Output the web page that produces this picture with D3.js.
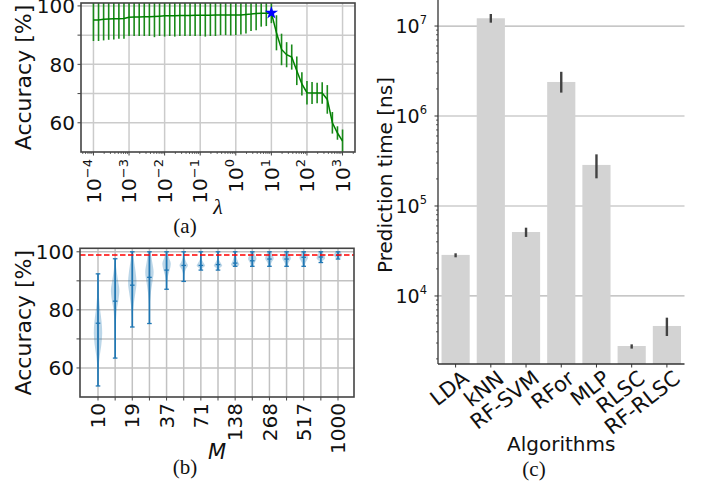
<!DOCTYPE html>
<html>
<head>
<meta charset="utf-8">
<script src="https://cdn.jsdelivr.net/npm/d3@7"></script>
<style>
body { margin: 0; background: #fff; }
text { font-family: "DejaVu Sans", sans-serif; fill: #111; }
.cap { font-family: "Liberation Serif", serif; }
</style>
</head>
<body>
<svg id="fig" width="705" height="486"></svg>
<script>
// ---------- data ----------
// (a) accuracy vs lambda
const lambdas = [
  1.00e-4, 1.39e-4, 1.93e-4, 2.68e-4, 3.73e-4, 5.18e-4, 7.20e-4,
  1.00e-3, 1.39e-3, 1.93e-3, 2.68e-3, 3.73e-3, 5.18e-3, 7.20e-3,
  1.00e-2, 1.39e-2, 1.93e-2, 2.68e-2, 3.73e-2, 5.18e-2, 7.20e-2,
  1.00e-1, 1.39e-1, 1.93e-1, 2.68e-1, 3.73e-1, 5.18e-1, 7.20e-1,
  1.00e0, 1.39e0, 1.93e0, 2.68e0, 3.73e0, 5.18e0, 7.20e0,
  1.00e1, 1.39e1, 1.93e1, 2.68e1, 3.73e1, 5.18e1, 7.20e1,
  1.00e2, 1.39e2, 1.93e2, 2.68e2, 3.73e2, 5.18e2, 7.20e2,
  1.00e3
];
const accMean = [
  95.2, 95.2, 95.4, 95.5, 95.6, 95.6, 95.7,
  96.1, 96.2, 96.2, 96.3, 96.3, 96.4, 96.5,
  96.6, 96.6, 96.6, 96.7, 96.7, 96.7, 96.8,
  96.8, 96.8, 96.8, 96.9, 96.9, 96.9, 96.9,
  96.9, 96.9, 97.1, 97.2, 97.4, 97.5, 97.5,
  97.6, 90.8, 85.1, 83.3, 82.5, 77.8, 73.3,
  70.3, 70.2, 70.2, 70.2, 68.0, 60.0, 56.5,
  53.7
];
const accStd = [
  7.2, 7.2, 7.2, 7.1, 7.1, 6.8, 6.9,
  6.4, 6.5, 6.5, 6.6, 6.6, 7.1, 6.8,
  7.1, 6.9, 7.1, 7.0, 7.0, 7.0, 7.1,
  7.1, 7.3, 7.1, 7.2, 6.9, 6.9, 7.0,
  6.9, 6.7, 6.5, 5.8, 5.7, 4.6, 4.4,
  3.5, 6.0, 5.4, 4.3, 4.3, 4.9, 4.0,
  4.0, 3.8, 3.5, 3.7, 4.9, 3.7, 2.3,
  4.0
];
const bestLambda = 1.00e1, bestAcc = 97.6;
const lamTickExp = [-4, -3, -2, -1, 0, 1, 2, 3];
const accTicks = [60, 70, 80, 90, 100];
const accLabels = [60, 80, 100];

// (b) accuracy vs M (violins)
const Ms = [10, 14, 19, 27, 37, 52, 71, 100, 138, 193, 268, 373, 517, 719, 1000];
const mLabels = [10, 19, 37, 71, 138, 268, 517, 1000];
const mMin = [53.8, 63.4, 74.1, 75.3, 87.1, 89.8, 93.7, 93.7, 95.0, 95.0, 95.0, 95.0, 95.0, 96.3, 97.5];
const mMax = [92.4, 97.6, 100, 100, 100, 100, 100, 100, 100, 100, 100, 100, 100, 100, 100];
const mMedian = [75.4, 83.0, 88.5, 91.2, 93.7, 95.3, 95.3, 95.6, 96.1, 96.9, 97.5, 97.5, 98.1, 98.2, 98.8];
// violin outlines: [accuracy, relative half width]
const violins = [
  [[92.4,0],[88,0.1],[84,0.25],[80,0.5],[76,0.85],[72,1.0],[68,0.8],[64,0.4],[60,0.15],[56,0.05],[53.8,0]],
  [[97.6,0.05],[94,0.3],[90,0.7],[87,1.0],[84,0.85],[80,0.4],[75,0.15],[70,0.05],[63.4,0]],
  [[100,0.15],[97,0.4],[93,0.8],[89,1.0],[86,0.75],[82,0.35],[78,0.1],[74.1,0]],
  [[100,0.3],[97,0.6],[93,1.0],[90,0.75],[86,0.35],[82,0.1],[75.3,0]],
  [[100,0.2],[98,0.55],[96,1.0],[94,0.8],[92,0.4],[89,0.1],[87.1,0]],
  [[100,0.05],[98,0.2],[96.5,0.6],[95.3,1.0],[94,0.5],[92,0.1],[89.8,0]],
  [[100,0.05],[97.5,0.2],[95.8,0.8],[95.2,1.0],[94.5,0.5],[93.7,0.1]],
  [[100,0.05],[97.5,0.2],[95.8,0.8],[95.3,1.0],[94.5,0.5],[93.7,0.1]],
  [[100,0.1],[98,0.35],[96.5,0.7],[95.6,1.0],[95,0.6]],
  [[100,0.3],[98.5,0.8],[97.5,1.0],[96.3,0.6],[95,0.3]],
  [[100,0.35],[98.5,0.9],[97.6,1.0],[96.3,0.5],[95,0.25]],
  [[100,0.35],[98.5,0.9],[97.6,1.0],[96.3,0.5],[95,0.25]],
  [[100,0.4],[98.6,0.9],[97.8,1.0],[96.3,0.45],[95,0.2]],
  [[100,0.3],[98.5,0.9],[97.7,1.0],[96.8,0.4],[96.3,0.2]],
  [[100,0.4],[99,1.0],[98.2,0.7],[97.5,0.3]]
];
const refAcc = 98.9;

// (c) prediction time
const algos = ["LDA", "kNN", "RF-SVM", "RFor", "MLP", "RLSC", "RF-RLSC"];
const predTime = [2.86e4, 1.22e7, 5.14e4, 2.39e6, 2.86e5, 2.78e3, 4.64e3];
const timeLow = [2.69e4, 1.09e7, 4.53e4, 1.82e6, 2.03e5, 2.60e3, 3.59e3];
const timeHigh = [2.98e4, 1.36e7, 5.74e4, 3.10e6, 3.75e5, 2.90e3, 5.74e3];
const timeTickExp = [4, 5, 6, 7];

const svg = d3.select("#fig");
const tickFont = 20;

// ---------- (a) ----------
const ax = { x0: 81, x1: 355, y0: 3, y1: 152 };
const xa = d3.scaleLog().domain([Math.pow(10, -4.35), Math.pow(10, 3.35)]).range([ax.x0, ax.x1]);
const ya = d3.scaleLinear().domain([50, 101]).range([ax.y1, ax.y0]);
const ga = svg.append("g");

ga.append("clipPath").attr("id", "clipA").append("rect")
  .attr("x", ax.x0).attr("y", ax.y0).attr("width", ax.x1 - ax.x0).attr("height", ax.y1 - ax.y0);

ga.selectAll(".gx").data(lamTickExp).enter().append("line")
  .attr("x1", d => xa(Math.pow(10, d))).attr("x2", d => xa(Math.pow(10, d)))
  .attr("y1", ax.y0).attr("y2", ax.y1)
  .attr("stroke", "#cbcbcb").attr("stroke-width", 1.5);
ga.selectAll(".gy").data(accTicks).enter().append("line")
  .attr("x1", ax.x0).attr("x2", ax.x1)
  .attr("y1", d => ya(d)).attr("y2", d => ya(d))
  .attr("stroke", "#cbcbcb").attr("stroke-width", 1.5);

const aData = lambdas.map((l, i) => ({ l, m: accMean[i], s: accStd[i] }));
const plotA = ga.append("g").attr("clip-path", "url(#clipA)");
plotA.selectAll(".eb").data(aData).enter().append("line")
  .attr("x1", d => xa(d.l)).attr("x2", d => xa(d.l))
  .attr("y1", d => ya(d.m - d.s)).attr("y2", d => ya(d.m + d.s))
  .attr("stroke", "#1a8a1a").attr("stroke-width", 1.6);
plotA.append("path").datum(aData)
  .attr("d", d3.line().x(d => xa(d.l)).y(d => ya(d.m)))
  .attr("fill", "none").attr("stroke", "#008000").attr("stroke-width", 1.5);
ga.append("path")
  .attr("d", d3.symbol(d3.symbolStar, 55)())
  .attr("transform", `translate(${xa(bestLambda)},${ya(bestAcc)})`)
  .attr("fill", "#0000ff");

// x ticks (major + minor)
const minorA = xa.ticks().filter(t => Math.abs(Math.log10(t) - Math.round(Math.log10(t))) > 1e-6);
ga.selectAll(".mt").data(minorA).enter().append("line")
  .attr("x1", d => xa(d)).attr("x2", d => xa(d))
  .attr("y1", ax.y1).attr("y2", ax.y1 + 2)
  .attr("stroke", "#444").attr("stroke-width", 0.8);
ga.selectAll(".Mt").data(lamTickExp).enter().append("line")
  .attr("x1", d => xa(Math.pow(10, d))).attr("x2", d => xa(Math.pow(10, d)))
  .attr("y1", ax.y1).attr("y2", ax.y1 + 3.5)
  .attr("stroke", "#444").attr("stroke-width", 1);
// rotated power-of-ten labels: base and exponent as separate texts
ga.selectAll(".xl").data(lamTickExp).enter().append("g")
  .attr("transform", d => `translate(${xa(Math.pow(10, d))},${ax.y1 + 7}) rotate(-90)`)
  .each(function (d) {
    const g = d3.select(this);
    const sup = g.append("text").attr("x", 0).attr("y", -1.5)
      .attr("text-anchor", "end").attr("font-size", 13)
      .text(d < 0 ? "\u2212" + (-d) : String(d));
    const w = sup.node().getComputedTextLength();
    g.append("text").attr("x", -w).attr("y", 7.2)
      .attr("text-anchor", "end").attr("font-size", tickFont).text("10");
  });
// y ticks
ga.selectAll(".yt").data(accTicks).enter().append("line")
  .attr("x1", ax.x0 - 3.5).attr("x2", ax.x0)
  .attr("y1", d => ya(d)).attr("y2", d => ya(d))
  .attr("stroke", "#444").attr("stroke-width", 1);
ga.selectAll(".yl").data(accLabels).enter().append("text")
  .attr("x", ax.x0 - 6).attr("y", d => ya(d)).attr("dy", "0.36em")
  .attr("text-anchor", "end").attr("font-size", tickFont).text(d => d);
ga.append("rect").attr("x", ax.x0).attr("y", ax.y0)
  .attr("width", ax.x1 - ax.x0).attr("height", ax.y1 - ax.y0)
  .attr("fill", "none").attr("stroke", "#444").attr("stroke-width", 1.6);
ga.append("text").attr("transform", `translate(31,${(ax.y0 + ax.y1) / 2}) rotate(-90)`)
  .attr("text-anchor", "middle").attr("font-size", 22).text("Accuracy [%]");
ga.append("text").attr("x", (ax.x0 + ax.x1) / 2).attr("y", 214)
  .attr("text-anchor", "middle").attr("font-size", 22)
  .attr("font-style", "italic").attr("class", "cap").text("\u03bb");
ga.append("text").attr("class", "cap").attr("x", 185).attr("y", 233)
  .attr("text-anchor", "middle").attr("font-size", 21).text("(a)");

// ---------- (b) ----------
const bx = { x0: 80, x1: 354, y0: 248.3, y1: 397 };
const xb = d3.scalePoint().domain(Ms).range([98, 338]);
const yb = d3.scaleLinear().domain([50, 101.2]).range([bx.y1, bx.y0]);
const gb = svg.append("g");

gb.selectAll(".gx").data(Ms).enter().append("line")
  .attr("x1", d => xb(d)).attr("x2", d => xb(d))
  .attr("y1", bx.y0).attr("y2", bx.y1)
  .attr("stroke", "#c2c2c2").attr("stroke-width", 1.5);
gb.selectAll(".gy").data(accTicks).enter().append("line")
  .attr("x1", bx.x0).attr("x2", bx.x1)
  .attr("y1", d => yb(d)).attr("y2", d => yb(d))
  .attr("stroke", "#c2c2c2").attr("stroke-width", 1.5);

const halfW = 4.2;
const violinArea = d3.area()
  .y(d => yb(d.v))
  .x0(d => d.c - d.w * halfW)
  .x1(d => d.c + d.w * halfW)
  .curve(d3.curveCatmullRom);
gb.selectAll(".vio").data(Ms).enter().append("path")
  .attr("d", (m, i) => violinArea(violins[i].map(p => ({ v: p[0], w: p[1], c: xb(m) }))))
  .attr("fill", "#1f77b4").attr("fill-opacity", 0.3);

const bData = Ms.map((m, i) => ({ m, lo: mMin[i], hi: mMax[i], med: mMedian[i] }));
gb.selectAll(".vl").data(bData).enter().append("line")
  .attr("x1", d => xb(d.m)).attr("x2", d => xb(d.m))
  .attr("y1", d => yb(d.lo)).attr("y2", d => yb(d.hi))
  .attr("stroke", "#1f77b4").attr("stroke-width", 1.7);
["lo", "hi", "med"].forEach(k => {
  gb.selectAll(".c" + k).data(bData).enter().append("line")
    .attr("x1", d => xb(d.m) - 2.3).attr("x2", d => xb(d.m) + 2.3)
    .attr("y1", d => yb(d[k])).attr("y2", d => yb(d[k]))
    .attr("stroke", "#1f77b4").attr("stroke-width", 1.3);
});
gb.append("line").attr("x1", bx.x0).attr("x2", bx.x1)
  .attr("y1", yb(refAcc)).attr("y2", yb(refAcc))
  .attr("stroke", "#ff0000").attr("stroke-width", 1.4).attr("stroke-dasharray", "5.5,2.5");

gb.selectAll(".xt").data(Ms).enter().append("line")
  .attr("x1", d => xb(d)).attr("x2", d => xb(d))
  .attr("y1", bx.y1).attr("y2", bx.y1 + 3.5)
  .attr("stroke", "#444").attr("stroke-width", 1);
gb.selectAll(".xl").data(mLabels).enter().append("g")
  .attr("transform", d => `translate(${xb(d)},${bx.y1 + 6})`)
  .append("text").attr("transform", "rotate(-90)")
  .attr("text-anchor", "end").attr("dy", "0.36em").attr("font-size", tickFont).text(d => d);
gb.selectAll(".yt").data(accTicks).enter().append("line")
  .attr("x1", bx.x0 - 3.5).attr("x2", bx.x0)
  .attr("y1", d => yb(d)).attr("y2", d => yb(d))
  .attr("stroke", "#444").attr("stroke-width", 1);
gb.selectAll(".yl").data(accLabels).enter().append("text")
  .attr("x", bx.x0 - 6).attr("y", d => yb(d)).attr("dy", "0.36em")
  .attr("text-anchor", "end").attr("font-size", tickFont).text(d => d);
gb.append("rect").attr("x", bx.x0).attr("y", bx.y0)
  .attr("width", bx.x1 - bx.x0).attr("height", bx.y1 - bx.y0)
  .attr("fill", "none").attr("stroke", "#444").attr("stroke-width", 1.6);
gb.append("text").attr("transform", `translate(31,${(bx.y0 + bx.y1) / 2}) rotate(-90)`)
  .attr("text-anchor", "middle").attr("font-size", 22).text("Accuracy [%]");
gb.append("text").attr("x", 217).attr("y", 459)
  .attr("text-anchor", "middle").attr("font-size", 21).attr("font-style", "italic").text("M");
gb.append("text").attr("class", "cap").attr("x", 185).attr("y", 474)
  .attr("text-anchor", "middle").attr("font-size", 21).text("(b)");

// ---------- (c) ----------
const cx = { x0: 438, x1: 684.5, y0: -15, y1: 364 };
const xc = d3.scaleBand().domain(algos).range([cx.x0, cx.x1]).paddingInner(0.2).paddingOuter(0.1);
const yc = d3.scaleLog().domain([Math.pow(10, 3.244), Math.pow(10, 7.456)]).range([cx.y1, cx.y0]);
const gc = svg.append("g");

gc.selectAll(".gy").data(timeTickExp).enter().append("line")
  .attr("x1", cx.x0).attr("x2", cx.x1)
  .attr("y1", d => yc(Math.pow(10, d))).attr("y2", d => yc(Math.pow(10, d)))
  .attr("stroke", "#b4b4b4").attr("stroke-width", 1.2);

const cData = algos.map((a, i) => ({ a, v: predTime[i], lo: timeLow[i], hi: timeHigh[i] }));
gc.selectAll(".bar").data(cData).enter().append("rect")
  .attr("x", d => xc(d.a)).attr("width", xc.bandwidth())
  .attr("y", d => yc(d.v)).attr("height", d => cx.y1 - yc(d.v))
  .attr("fill", "#d3d3d3");
gc.selectAll(".err").data(cData).enter().append("line")
  .attr("x1", d => xc(d.a) + xc.bandwidth() / 2).attr("x2", d => xc(d.a) + xc.bandwidth() / 2)
  .attr("y1", d => yc(d.lo)).attr("y2", d => yc(d.hi))
  .attr("stroke", "#424242").attr("stroke-width", 2.4);

// y ticks
const minorC = yc.ticks().filter(t => Math.abs(Math.log10(t) - Math.round(Math.log10(t))) > 1e-6);
gc.selectAll(".mt").data(minorC).enter().append("line")
  .attr("x1", cx.x0 - 2).attr("x2", cx.x0)
  .attr("y1", d => yc(d)).attr("y2", d => yc(d))
  .attr("stroke", "#333").attr("stroke-width", 0.8);
gc.selectAll(".Mt").data(timeTickExp).enter().append("line")
  .attr("x1", cx.x0 - 3.5).attr("x2", cx.x0)
  .attr("y1", d => yc(Math.pow(10, d))).attr("y2", d => yc(Math.pow(10, d)))
  .attr("stroke", "#333").attr("stroke-width", 1);
gc.selectAll(".yl").data(timeTickExp).enter().append("text")
  .attr("x", 427).attr("y", d => yc(Math.pow(10, d)))
  .attr("text-anchor", "end").attr("font-size", 19)
  .each(function (d) {
    const t = d3.select(this);
    t.append("tspan").attr("dy", "0.36em").text("10");
    t.append("tspan").attr("font-size", 11.5).attr("dy", -8.5).text(d);
  });
// x ticks
gc.selectAll(".xt").data(algos).enter().append("line")
  .attr("x1", d => xc(d) + xc.bandwidth() / 2).attr("x2", d => xc(d) + xc.bandwidth() / 2)
  .attr("y1", cx.y1).attr("y2", cx.y1 + 3.5)
  .attr("stroke", "#333").attr("stroke-width", 1);
gc.selectAll(".xl").data(algos).enter().append("g")
  .attr("transform", d => `translate(${xc(d) + xc.bandwidth() / 2 + 10},${cx.y1 + 11})`)
  .append("text").attr("transform", "rotate(-38)")
  .attr("text-anchor", "end").attr("dy", "0.36em").attr("font-size", 21).text(d => d);
gc.append("line").attr("x1", cx.x0).attr("x2", cx.x0).attr("y1", 0).attr("y2", cx.y1)
  .attr("stroke", "#333").attr("stroke-width", 1.3);
gc.append("line").attr("x1", cx.x0).attr("x2", cx.x1).attr("y1", cx.y1).attr("y2", cx.y1)
  .attr("stroke", "#333").attr("stroke-width", 1.3);
gc.append("text").attr("transform", "translate(392,175) rotate(-90)")
  .attr("text-anchor", "middle").attr("font-size", 20).text("Prediction time [ns]");
gc.append("text").attr("x", (cx.x0 + cx.x1) / 2).attr("y", 451)
  .attr("text-anchor", "middle").attr("font-size", 20).text("Algorithms");
gc.append("text").attr("class", "cap").attr("x", 534).attr("y", 476)
  .attr("text-anchor", "middle").attr("font-size", 21).text("(c)");
</script>
</body>
</html>
